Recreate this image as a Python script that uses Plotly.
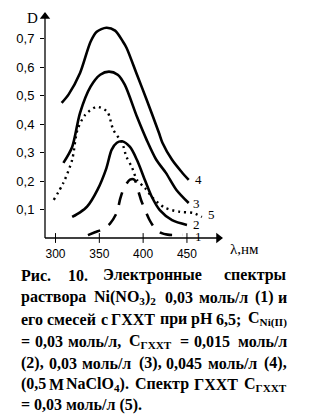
import re
import plotly.graph_objects as go

# ---------------- data ----------------
wl1 = [337, 345, 353, 362, 370, 374, 378, 385, 390, 395, 398, 402, 407, 412, 419, 430, 445]
d1 = [0.010, 0.020, 0.030, 0.050, 0.090, 0.140, 0.175, 0.205, 0.205, 0.160, 0.130, 0.100, 0.065, 0.040, 0.020, 0.011, 0.011]

wl2 = [319, 328, 336, 348, 358, 364, 370, 376, 385, 393, 402, 410, 419, 433, 450]
d2 = [0.074, 0.090, 0.110, 0.170, 0.245, 0.310, 0.335, 0.340, 0.320, 0.274, 0.204, 0.144, 0.098, 0.063, 0.046]

wl3 = [309, 319, 328, 340, 351, 361, 371, 379, 393, 404, 415, 426, 438, 452]
d3 = [0.264, 0.320, 0.440, 0.532, 0.574, 0.585, 0.574, 0.539, 0.426, 0.345, 0.275, 0.229, 0.169, 0.123]

wl4 = [307, 315, 328, 340, 347, 358, 368, 377, 381, 393, 404, 418, 422, 433, 444, 452]
d4 = [0.475, 0.505, 0.580, 0.690, 0.725, 0.739, 0.729, 0.690, 0.669, 0.574, 0.486, 0.370, 0.335, 0.275, 0.232, 0.204]

wl5 = [298, 309, 319, 325, 334, 347, 359, 366, 376, 381, 387, 393, 402, 411, 425, 442, 457, 467]
d5 = [0.134, 0.194, 0.275, 0.380, 0.433, 0.461, 0.444, 0.380, 0.334, 0.285, 0.250, 0.204, 0.176, 0.141, 0.106, 0.092, 0.088, 0.074]

curve_labels = ["1", "2", "3", "4", "5"]
label_wl = [457, 455, 455, 457, 472]
label_d = [0.006, 0.048, 0.123, 0.204, 0.081]

x_ticks = [300, 350, 400, 450]
y_ticks = [0.1, 0.2, 0.3, 0.4, 0.5, 0.6, 0.7]
y_ticktext = ["0,1", "0,2", "0,3", "0,4", "0,5", "0,6", "0,7"]

caption_lines = [
    "Рис. 10. Электронные спектры",
    "раствора Ni(NO<sub>3</sub>)<sub>2</sub> 0,03 моль/л (1) и",
    "его смесей с ГХХТ при рН 6,5; C<sub>Ni(II)</sub>",
    "= 0,03 моль/л, C<sub>ГХХТ</sub> = 0,015 моль/л",
    "(2), 0,03 моль/л (3), 0,045 моль/л (4),",
    "(0,5 M NaClO<sub>4</sub>). Спектр ГХХТ C<sub>ГХХТ</sub>",
    "= 0,03 моль/л (5).",
]
caption_justified = [True, True, True, True, True, True, False]
caption_y = [275, 297, 319, 341, 363, 384, 405]

# ---------------- layout geometry ----------------
W, H = 323, 416
L, T, R, B = 45, 13, 222, 238
XR = [288, 490]
YR = [0, 0.791]
CAP_L, CAP_R = 20, 288
CAP_SIZE = 16
WIDTH_FUDGE = 1.07


def px_x(p):
    return (p - L) / (R - L)


def px_y(p):
    return (B - p) / (B - T)


# approximate advance widths (1/1000 em) of a Times-style bold serif
ADV = {' ': 250, '.': 250, ',': 250, ';': 333, '(': 333, ')': 333, '/': 278, '=': 570,
       'N': 722, 'O': 778, 'C': 722, 'M': 944, 'I': 389, 'a': 500, 'l': 278, 'i': 278,
       'Р': 611, 'Э': 722, 'Г': 620, 'Х': 722, 'Т': 667, 'С': 722, 'Н': 778,
       'а': 500, 'в': 540, 'г': 450, 'е': 444, 'и': 580, 'й': 580, 'к': 560, 'л': 550,
       'м': 700, 'н': 580, 'о': 500, 'п': 580, 'р': 556, 'с': 444, 'т': 480, 'ы': 760, 'ь': 510}


def word_width(w, size):
    total = 0.0
    for part in re.split(r"(<sub>.*?</sub>)", w):
        if not part:
            continue
        if part.startswith("<sub>"):
            txt, k = part[5:-6], 0.75
        else:
            txt, k = part, 1.0
        for ch in txt:
            total += ADV.get(ch, 500) * k
    return total * size / 1000.0 * WIDTH_FUDGE


fig = go.Figure()

solid = dict(color="black", width=2.6, shape="spline", smoothing=0.8)
fig.add_trace(go.Scatter(x=wl4, y=d4, mode="lines", line=solid, hoverinfo="skip"))
fig.add_trace(go.Scatter(x=wl3, y=d3, mode="lines", line=solid, hoverinfo="skip"))
fig.add_trace(go.Scatter(x=wl2, y=d2, mode="lines", line=solid, hoverinfo="skip"))
fig.add_trace(go.Scatter(x=wl5, y=d5, mode="lines",
                         line=dict(color="black", width=2.4, dash="2px,4px", shape="spline", smoothing=0.8),
                         hoverinfo="skip"))
fig.add_trace(go.Scatter(x=wl1, y=d1, mode="lines",
                         line=dict(color="black", width=2.6, dash="13px,10px", shape="spline", smoothing=0.8),
                         hoverinfo="skip"))

# axis lines
fig.add_shape(type="line", xref="paper", yref="paper", x0=0, y0=0, x1=1, y1=0,
              line=dict(color="black", width=1.3))
fig.add_shape(type="line", xref="paper", yref="paper", x0=0, y0=0, x1=0, y1=1,
              line=dict(color="black", width=1.3))

# crossing tick marks on the x axis
fig.add_trace(go.Scatter(x=x_ticks, y=[0] * len(x_ticks), mode="markers",
                         marker=dict(symbol="line-ns", size=7, color="black",
                                     line=dict(color="black", width=1)),
                         cliponaxis=False, hoverinfo="skip"))
# arrow heads
fig.add_trace(go.Scatter(x=[XR[1] - 4], y=[0], mode="markers",
                         marker=dict(symbol="triangle-right", size=9, color="black", line=dict(width=0)),
                         cliponaxis=False, hoverinfo="skip"))
fig.add_trace(go.Scatter(x=[XR[0]], y=[YR[1] - 0.012], mode="markers",
                         marker=dict(symbol="triangle-up", size=9, color="black", line=dict(width=0)),
                         cliponaxis=False, hoverinfo="skip"))

annotations = []
serif = "Liberation Serif, Times New Roman, serif"
for t, xv, yv in zip(curve_labels, label_wl, label_d):
    annotations.append(dict(x=xv, y=yv, xref="x", yref="y", text=t, showarrow=False,
                            xanchor="left", yanchor="middle", font=dict(family=serif, size=13, color="black")))

annotations.append(dict(x=px_x(25), y=px_y(18), xref="paper", yref="paper", text="D", showarrow=False,
                        xanchor="left", yanchor="middle", font=dict(family=serif, size=15, color="black")))
annotations.append(dict(x=px_x(228), y=px_y(249), xref="paper", yref="paper", text="λ,нм", showarrow=False,
                        xanchor="left", yanchor="middle", font=dict(family=serif, size=15, color="black")))

cap_font = dict(family=serif, size=CAP_SIZE, color="black", weight="bold")
for line, just, yy in zip(caption_lines, caption_justified, caption_y):
    if not just:
        annotations.append(dict(x=px_x(CAP_L), y=px_y(yy), xref="paper", yref="paper", text=line,
                                showarrow=False, xanchor="left", yanchor="middle", font=cap_font,
                                borderpad=0))
        continue
    words = line.split(" ")
    widths = [word_width(w, CAP_SIZE) for w in words]
    gap = (CAP_R - CAP_L - sum(widths)) / (len(words) - 1)
    xpos = CAP_L
    for i, (w, wd) in enumerate(zip(words, widths)):
        if i == len(words) - 1:
            annotations.append(dict(x=px_x(CAP_R), y=px_y(yy), xref="paper", yref="paper", text=w,
                                    showarrow=False, xanchor="right", yanchor="middle", font=cap_font,
                                    borderpad=0))
        else:
            annotations.append(dict(x=px_x(xpos), y=px_y(yy), xref="paper", yref="paper", text=w,
                                    showarrow=False, xanchor="left", yanchor="middle", font=cap_font,
                                    borderpad=0))
        xpos += wd + gap

fig.update_layout(
    width=W, height=H,
    margin=dict(l=L, r=W - R, t=T, b=H - B, pad=0),
    paper_bgcolor="white", plot_bgcolor="white",
    showlegend=False,
    annotations=annotations,
    xaxis=dict(range=XR, tickvals=x_ticks, ticktext=[str(v) for v in x_ticks], ticks="",
               showline=False, showgrid=False, zeroline=False, ticklabelstandoff=7,
               tickfont=dict(family="Liberation Sans, Arial, sans-serif", size=12, color="black")),
    yaxis=dict(range=YR, tickvals=y_ticks, ticktext=y_ticktext, ticks="outside", ticklen=4,
               tickcolor="black", tickwidth=1, showline=False, showgrid=False, zeroline=False,
               ticklabelstandoff=3,
               tickfont=dict(family="Liberation Sans, Arial, sans-serif", size=13, color="black")),
)

fig.write_html("out.html")
